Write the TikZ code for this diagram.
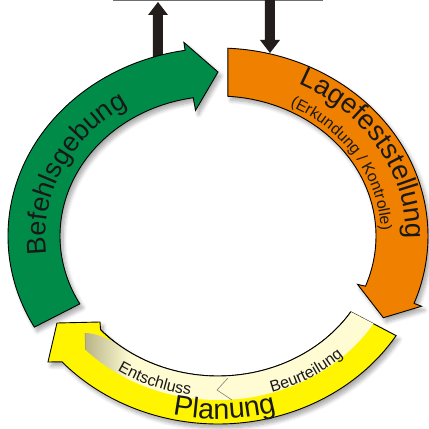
\documentclass[tikz,border=0pt]{standalone}
\usepackage{fontspec}
\setmainfont{Liberation Sans}
\usetikzlibrary{decorations.text,shadows.blur}
\definecolor{grn}{RGB}{0,140,72}
\definecolor{org}{RGB}{240,128,0}
\definecolor{ylw}{RGB}{255,245,0}
\definecolor{crm}{RGB}{255,252,212}
\definecolor{crmdark}{RGB}{185,180,135}
\definecolor{txt}{RGB}{25,25,25}
\definecolor{blk}{RGB}{35,30,28}
\definecolor{topline}{RGB}{110,110,110}
\pgfdeclarehorizontalshading{creamshade}{100bp}{color(0bp)=(crmdark); color(25bp)=(crmdark); color(33bp)=(crm); color(100bp)=(crm)}
\begin{document}
\begin{tikzpicture}[x=1pt,y=1pt,
  band/.style={draw=black, line width=0.9pt, line join=miter},
  softshadow/.style={blur shadow={shadow xshift=3pt, shadow yshift=-4pt, shadow blur steps=8, shadow blur radius=4pt, shadow opacity=35}},
  lbl/.style={decorate, decoration={text along path, text align=center}},
  blackarrow/.style={fill=blk},
]
\useasboundingbox (-218,-193) rectangle (211,236);
% top line and black arrows
\draw[topline, line width=2.5pt] (-105,236) -- (105,236);
\path[blackarrow] (-65,150) -- (-65,221) -- (-70,221) -- (-60,234) -- (-50,221) -- (-55,221) -- (-55,150) -- cycle;
\path[blackarrow] (47,240) -- (47,196) -- (42,196) -- (52,183) -- (62,196) -- (57,196) -- (57,240) -- cycle;
% Befehlsgebung (green)
\path[fill=grn, band, softshadow] (209:210pt and 188pt)
  arc[start angle=209, end angle=99, x radius=210pt, y radius=188pt]
  -- (99:218pt and 196pt) -- (90:184pt and 164pt) -- (98.5:152pt and 127pt) -- (99:158pt and 140pt)
  arc[start angle=99, end angle=209, x radius=158pt, y radius=140pt] -- cycle;
% Lagefeststellung (orange)
\path[fill=org, band, softshadow] (87.3:210pt and 188pt)
  arc[start angle=87.3, end angle=-21, x radius=210pt, y radius=188pt]
  -- (-21:218pt and 196pt) -- (-29.5:190pt and 166pt) -- (-21.5:150pt and 132pt) -- (-21:158pt and 140pt)
  arc[start angle=-21, end angle=86.4, x radius=158pt, y radius=140pt] -- cycle;
% Planung (yellow)
\path[fill=ylw, band, softshadow] (-32:210pt and 188pt)
  arc[start angle=-32, end angle=-138, x radius=210pt, y radius=188pt]
  -- (-170,-126) -- (-161,-87) -- (-118,-86) -- (-138:158pt and 140pt)
  arc[start angle=-138, end angle=-32.8, x radius=158pt, y radius=140pt] -- cycle;
% cream inner band
\path[shading=creamshade] (-32.8:158pt and 140pt) -- (-32.3:184pt and 164pt)
  arc[start angle=-32.3, end angle=-136, x radius=184pt, y radius=164pt]
  -- (-133,-97) .. controls (-122,-97) and (-107,-103.5) .. (-128:158pt and 140pt)
  arc[start angle=-128, end angle=-32.8, x radius=158pt, y radius=140pt] -- cycle;
\draw[black!45, line width=0.5pt] (-132.4,-113.9) -- (-133,-97);
\draw[black, line width=0.9pt] (-138:158pt and 140pt)
  arc[start angle=-138, end angle=-32.8, x radius=158pt, y radius=140pt];
\draw[black!50, line width=0.6pt] (10,-142) -- (-1,-154) -- (14,-164);
% labels
\path[lbl, decoration={text={|\color{txt}\fontsize{27pt}{30pt}\selectfont|Befehlsgebung}}]
  (205:172pt and 153pt) arc[start angle=205, end angle=105, x radius=172pt, y radius=153pt];
\path[lbl, decoration={text={|\color{txt}\fontsize{27.5pt}{30pt}\selectfont|Lagefeststellung}}]
  (81:188pt and 168pt) arc[start angle=81, end angle=-19, x radius=188pt, y radius=168pt];
\path[lbl, decoration={text={|\color{txt}\fontsize{15.8pt}{18pt}\selectfont|(Erkundung / Kontrolle)}}]
  (82:163pt and 145pt) arc[start angle=82, end angle=-18, x radius=163pt, y radius=145pt];
\path[lbl, decoration={text={|\color{txt}\fontsize{28.5pt}{31pt}\selectfont|Planung}}]
  (-133:204.5pt and 183pt) arc[start angle=-133, end angle=-43, x radius=204.5pt, y radius=183pt];
\path[lbl, decoration={text={|\color{txt}\fontsize{16pt}{18pt}\selectfont|Entschluss}}]
  (-152:182pt and 161pt) arc[start angle=-152, end angle=-72, x radius=182pt, y radius=161pt];
\path[lbl, decoration={text={|\color{txt}\fontsize{16pt}{18pt}\selectfont|Beurteilung}}]
  (-99:184pt and 164pt) arc[start angle=-99, end angle=-19, x radius=184pt, y radius=164pt];
\end{tikzpicture}
\end{document}
